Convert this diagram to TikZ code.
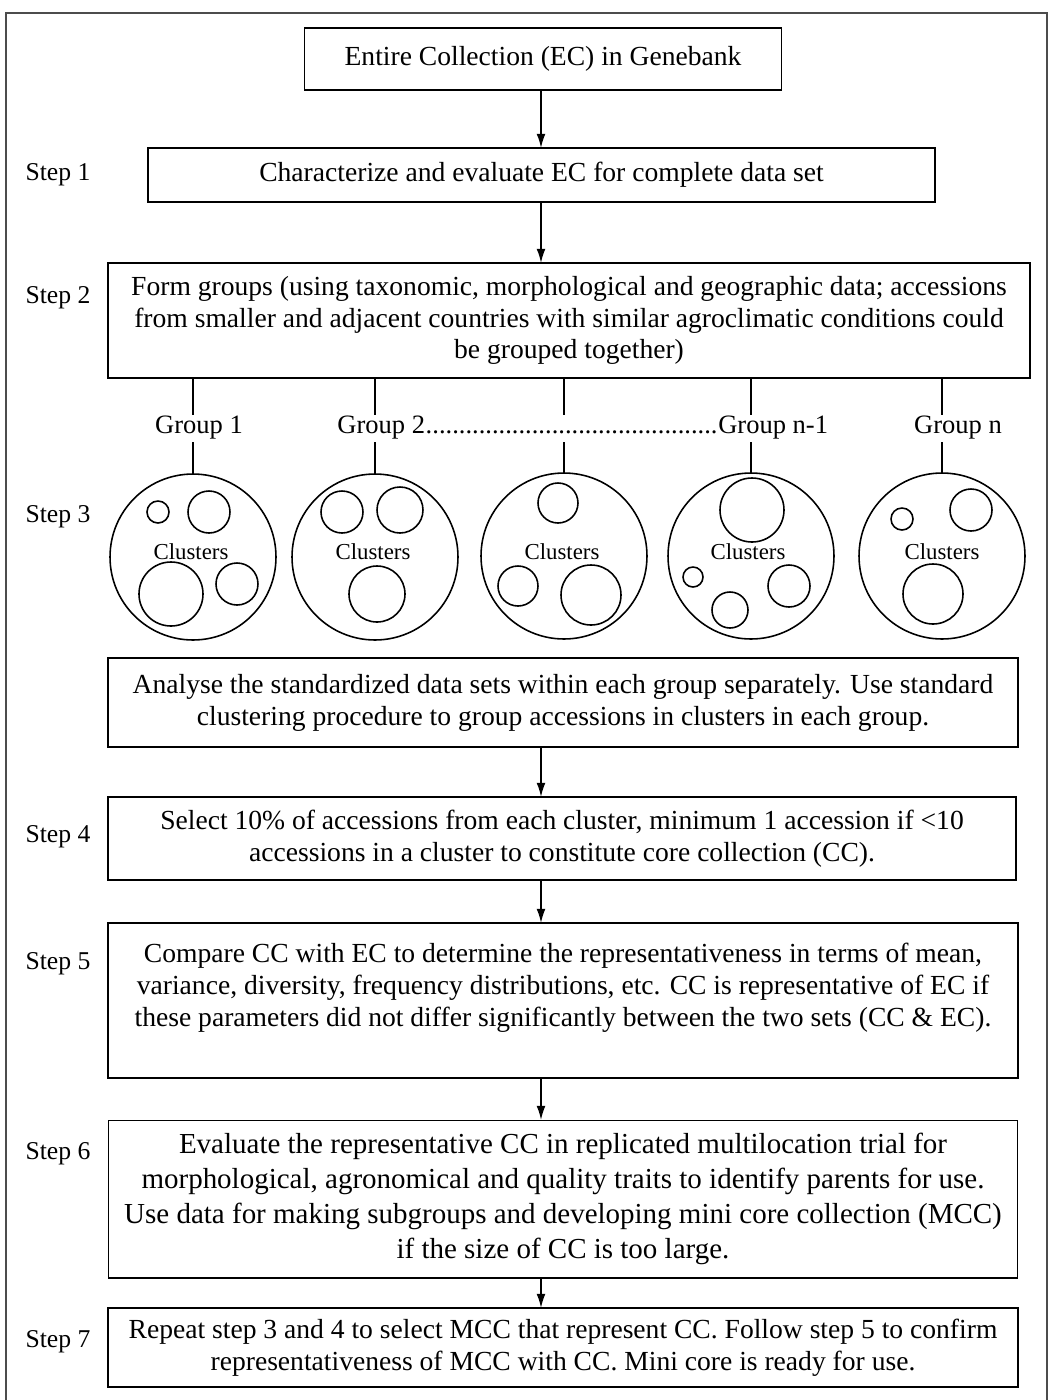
\documentclass[tikz,border=0pt]{standalone}
\usepackage{fontspec}
\setmainfont{Liberation Serif}
\usetikzlibrary{positioning,arrows.meta}

\begin{document}
\begin{tikzpicture}[x=0.02cm,y=-0.02cm]
  \tikzstyle{step box}=[draw,line width=1pt,outer sep=0pt,inner sep=0pt,align=center,font=\fontsize{15.7}{18.1}\selectfont]
  \tikzstyle{step label}=[inner sep=0pt,font=\fontsize{14.6}{17}\selectfont]
  \tikzset{
group label/.style={inner xsep=0pt,inner ysep=3pt,text height=0.7em,text depth=0.22em,font=\fontsize{15.1}{18}\selectfont},
group circle/.style={circle,draw,line width=0.9pt,minimum size=3.32cm,inner sep=0pt,outer sep=0pt},
cluster circle/.style={line width=0.9pt},
cluster text/.style={inner sep=0pt,font=\fontsize{13}{15}\selectfont},
link/.style={line width=0.9pt},
flow/.style={line width=0.9pt,-{Latex[length=8pt,width=5pt]}}
}
  \useasboundingbox (0,0) rectangle (1052,1400);
  \draw[black!70,line width=0.7pt] (6,1400) |- (1047,13) -- (1047,1400);

  \node[step box,minimum width=9.54cm,minimum height=1.24cm](ec) at (543,59) {Entire Collection (EC) in Genebank};
  \node[step box,minimum width=15.74cm,minimum height=1.08cm](box1) at (541.5,175) {Characterize and evaluate EC for complete data set};
  \node[step box,minimum width=18.44cm,minimum height=2.3cm](box2) at (569,320.5) {Form groups (using taxonomic, morphological and geographic data; accessions\\from smaller and adjacent countries with similar agroclimatic conditions could\\be grouped together)};
  \node[step box,minimum width=18.2cm,minimum height=1.78cm](box3) at (563,702.5) {Analyse the standardized data sets within each group separately. Use standard\\clustering procedure to group accessions in clusters in each group.};
  \node[step box,minimum width=18.16cm,minimum height=1.66cm](box4) at (562,838.5) {Select 10\% of accessions from each cluster, minimum 1 accession if <10\\accessions in a cluster to constitute core collection (CC).};
  \node[step box,minimum width=18.2cm,minimum height=3.1cm](box5) at (563,1000.5) {Compare CC with EC to determine the representativeness in terms of mean,\\variance, diversity, frequency distributions, etc. CC is representative of EC if\\these parameters did not differ significantly between the two sets (CC \& EC).\\\mbox{}};
  \node[step box,line width=0.6pt,minimum width=18.2cm,minimum height=3.16cm,font=\fontsize{16.5}{19.8}\selectfont](box6) at (563,1199) {Evaluate the representative CC in replicated multilocation trial for\\morphological, agronomical and quality traits to identify parents for use.\\Use data for making subgroups and developing mini core collection (MCC)\\if the size of CC is too large.};
  \node[step box,minimum width=18.2cm,minimum height=1.58cm](box7) at (563,1347.5) {Repeat step 3 and 4 to select MCC that represent CC. Follow step 5 to confirm\\representativeness of MCC with CC. Mini core is ready for use.};

  \node[step label](s1) at (58,175) {Step 1};
  \node[step label](s2) at (58,298) {Step 2};
  \node[step label](s3) at (58,517) {Step 3};
  \node[step label](s4) at (58,837) {Step 4};
  \node[step label](s5) at (58,964) {Step 5};
  \node[step label](s6) at (58,1154) {Step 6};
  \node[step label](s7) at (58,1342) {Step 7};

  \coordinate (ax) at (541,0);
  \draw[flow] (ec.south -| ax) -- (box1.north -| ax);
  \draw[flow] (box1.south -| ax) -- (box2.north -| ax);
  \draw[flow] (box3.south -| ax) -- (box4.north -| ax);
  \draw[flow] (box4.south -| ax) -- (box5.north -| ax);
  \draw[flow] (box5.south -| ax) -- (box6.north -| ax);
  \draw[flow] (box6.south -| ax) -- (box7.north -| ax);

  \node[group label,anchor=base](g1) at (199,433) {Group 1};
  \node[group label,anchor=base west](g2) at (337,433) {Group 2};
  \node[group label,right=0pt of g2](g3) {............................................};
  \node[group label,right=0pt of g3](g4) {Group n-1};
  \node[group label,anchor=base](g5) at (958,433) {Group n};

  \node[group circle](c1) at (193,557) {};
  \node[group circle](c2) at (375,557) {};
  \node[group circle](c3) at (564,556) {};
  \node[group circle](c4) at (751,556) {};
  \node[group circle](c5) at (942,556) {};

  \draw[link] (box2.south -| c1) -- (g1.north -| c1);
  \draw[link] (box2.south -| c2) -- (g2.north -| c2);
  \draw[link] (box2.south -| c3) -- (g3.north -| c3);
  \draw[link] (box2.south -| c4) -- (g4.north -| c4);
  \draw[link] (box2.south -| c5) -- (g5.north -| c5);
  \draw[link] (g1.south -| c1) -- (c1.north);
  \draw[link] (g2.south -| c2) -- (c2.north);
  \draw[link] (g3.south -| c3) -- (c3.north);
  \draw[link] (g4.south -| c4) -- (c4.north);
  \draw[link] (g5.south -| c5) -- (c5.north);

  \node[cluster text](k1) at (191,552) {Clusters};
  \node[cluster text](k2) at (373,552) {Clusters};
  \node[cluster text](k3) at (562,552) {Clusters};
  \node[cluster text](k4) at (748,552) {Clusters};
  \node[cluster text](k5) at (942,552) {Clusters};

  \draw[cluster circle] (c1) ++(-35,-45) circle[radius=11] (c1) ++(16,-45) circle[radius=21]
    (c1) ++(-22,37) circle[radius=32] (c1) ++(44,27) circle[radius=21];
  \draw[cluster circle] (c2) ++(-33,-45) circle[radius=21] (c2) ++(25,-47) circle[radius=23]
    (c2) ++(2,37) circle[radius=28];
  \draw[cluster circle] (c3) ++(-6,-53) circle[radius=20] (c3) ++(-46,30) circle[radius=20]
    (c3) ++(27,39) circle[radius=30];
  \draw[cluster circle] (c4) ++(1,-46) circle[radius=32] (c4) ++(-58,21) circle[radius=10]
    (c4) ++(-21,54) circle[radius=18] (c4) ++(38,30) circle[radius=21];
  \draw[cluster circle] (c5) ++(-40,-37) circle[radius=11] (c5) ++(29,-46) circle[radius=21]
    (c5) ++(-9,38) circle[radius=30];
\end{tikzpicture}
\end{document}
